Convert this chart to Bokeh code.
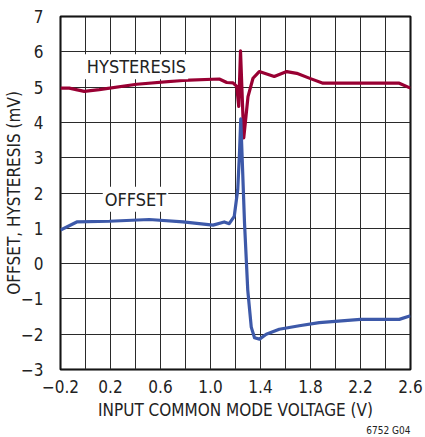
from bokeh.plotting import figure
from bokeh.models import Range1d, FixedTicker, CustomJSTickFormatter, Label, Title
from bokeh.embed import file_html
from bokeh.resources import INLINE

# ---- data ----
hyst_x = [-0.2, -0.13, -0.01, 0.11, 0.41, 0.78, 1.07, 1.13, 1.18, 1.21, 1.226, 1.24,
          1.266, 1.30, 1.34, 1.39, 1.51, 1.61, 1.69, 1.80, 1.90, 2.2, 2.51, 2.6]
hyst_y = [4.97, 4.97, 4.88, 4.93, 5.08, 5.19, 5.23, 5.13, 5.12, 5.02, 4.45, 6.03,
          3.56, 4.73, 5.25, 5.44, 5.30, 5.44, 5.39, 5.24, 5.11, 5.11, 5.11, 4.97]

off_x = [-0.2, -0.07, 0.19, 0.51, 0.78, 1.02, 1.11, 1.15, 1.19, 1.218, 1.232, 1.242,
         1.272, 1.298, 1.326, 1.352, 1.392, 1.446, 1.55, 1.71, 1.87, 2.2, 2.51, 2.6]
off_y = [0.95, 1.18, 1.2, 1.25, 1.18, 1.09, 1.18, 1.13, 1.34, 2.1, 3.14, 4.1,
         1.16, -0.75, -1.8, -2.1, -2.14, -2.0, -1.86, -1.76, -1.67, -1.58, -1.58, -1.48]

x_ticks = [-0.2, 0.2, 0.6, 1.0, 1.4, 1.8, 2.2, 2.6]
x_minor = [0.0, 0.4, 0.8, 1.2, 1.6, 2.0, 2.4]
y_ticks = [-3, -2, -1, 0, 1, 2, 3, 4, 5, 6, 7]

FONT = "DejaVu Sans Condensed"
TXT = "#222222"
GRID = "#2a2a2a"

p = figure(width=425, height=437, output_backend="svg", toolbar_location=None,
           x_range=Range1d(-0.2, 2.6), y_range=Range1d(-3, 7),
           min_border_left=60, min_border_right=15, min_border_top=16, min_border_bottom=68)

p.outline_line_color = "black"
p.outline_line_width = 2
p.xgrid.visible = False
p.ygrid.visible = False

for ax in (p.xaxis[0], p.yaxis[0]):
    ax.axis_line_color = None
    ax.major_tick_line_color = None
    ax.minor_tick_line_color = None
    ax.major_label_text_font = FONT
    ax.major_label_text_font_size = "17px"
    ax.major_label_text_color = TXT
    ax.axis_label_text_font = FONT
    ax.axis_label_text_font_size = "17px"
    ax.axis_label_text_font_style = "normal"
    ax.axis_label_text_color = TXT

p.xaxis.ticker = FixedTicker(ticks=x_ticks, minor_ticks=x_minor)
p.yaxis.ticker = FixedTicker(ticks=y_ticks)
p.xaxis.formatter = CustomJSTickFormatter(
    code="return (tick < -1e-9 ? '\u2212' : '') + Math.abs(tick).toFixed(1);")
p.yaxis.formatter = CustomJSTickFormatter(
    code="return (tick < -1e-9 ? '\u2212' : '') + Math.abs(tick).toFixed(0);")
p.xaxis.major_label_standoff = 4
p.yaxis.major_label_standoff = 11
p.xaxis.axis_label = "INPUT COMMON MODE VOLTAGE (V)"
p.xaxis.axis_label_standoff = 4
p.yaxis.axis_label = "OFFSET, HYSTERESIS (mV)"
p.yaxis.axis_label_standoff = -6

# grid lines drawn as glyphs at the tick positions
p.vspan(x=x_ticks + x_minor, line_color=GRID, line_width=1)
p.hspan(y=y_ticks, line_color=GRID, line_width=1)

p.line(hyst_x, hyst_y, line_color="#990033", line_width=3.2, line_join="round")
p.line(off_x, off_y, line_color="#3D59A9", line_width=3.2, line_join="round")

p.add_layout(Label(x=0.408, y=5.58, text="HYSTERESIS", text_font=FONT, text_font_size="18px",
                   text_align="center", text_baseline="middle", text_color=TXT,
                   background_fill_color="white", padding=2))
p.add_layout(Label(x=0.40, y=1.82, text="OFFSET", text_font=FONT, text_font_size="18px",
                   text_align="center", text_baseline="middle", text_color=TXT,
                   background_fill_color="white", padding=2))

p.add_layout(Title(text="6752 G04", align="right", text_font=FONT, text_font_size="10px",
                   text_font_style="normal", text_color=TXT, standoff=0), "below")

open("out.html", "w").write(file_html(p, INLINE))
